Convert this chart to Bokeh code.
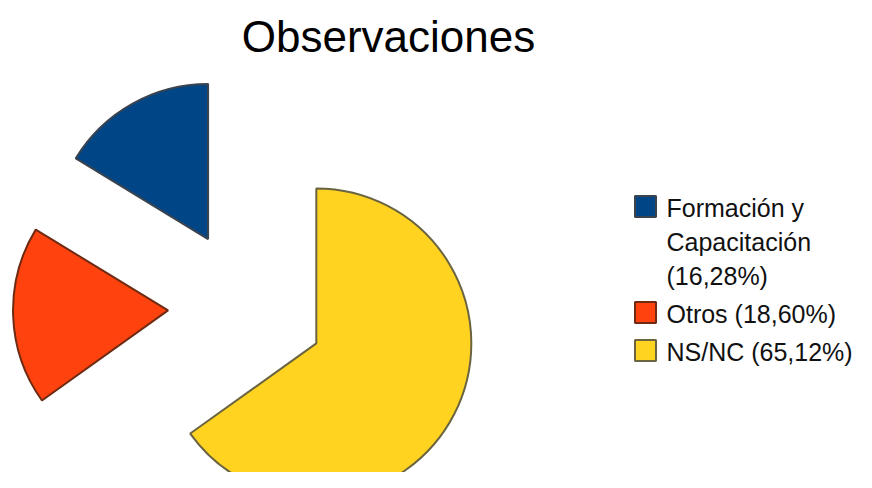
import math
from bokeh.plotting import figure
from bokeh.models import Range1d, ColumnDataSource
from bokeh.core.properties import value
from bokeh.embed import file_html
from bokeh.resources import INLINE

# ---- data ----
categories = ["Formación y Capacitación", "Otros", "NS/NC"]
percentages = [16.28, 18.60, 65.12]
legend_lines = [["Formación y", "Capacitación", "(16,28%)"], ["Otros (18,60%)"], ["NS/NC (65,12%)"]]
fill_colors = ["#004586", "#ff420e", "#ffd320"]
edge_colors = ["#3a4450", "#6e2a12", "#6a6440"]
title_text = "Observaciones"

W, H = 856, 472
p = figure(width=W, height=H, output_backend="svg", toolbar_location=None,
           x_range=Range1d(0, W), y_range=Range1d(0, H), min_border=0)
p.axis.visible = False
p.grid.visible = False
p.outline_line_color = None
p.background_fill_color = "white"
p.border_fill_color = "white"

def sx(x):
    return x

def sy(y):
    return 471 - y

# ---- exploded pie ----
cx, cy = sx(246), sy(306)
radius = 155
explode = 78.5
total = sum(percentages)
starts, ends, xs, ys = [], [], [], []
a = math.pi / 2
for v in percentages:
    span = v / total * 2 * math.pi
    mid = a + span / 2
    starts.append(a)
    ends.append(a + span)
    xs.append(cx + explode * math.cos(mid))
    ys.append(cy + explode * math.sin(mid))
    a += span

src = ColumnDataSource(dict(x=xs, y=ys, start=starts, end=ends, fill=fill_colors,
                            edge=edge_colors, cat=categories))
p.wedge(x="x", y="y", radius=radius, start_angle="start", end_angle="end",
        direction="anticlock", fill_color="fill", line_color="edge", line_width=2, source=src)

# ---- title ----
p.text(x=[sx(388)], y=[sy(35)], text=[title_text], text_align="center",
       text_baseline="middle", text_font=value("Liberation Sans"),
       text_font_size="44px", text_color="#000000")

# ---- legend ----
box_x = sx(645)
text_x = sx(666)
line_step = 34
entry_top = [206, 312, 350]  # centre of first line of each entry (screen y)
bx, by, bf, bl = [], [], [], []
tx, ty, tt = [], [], []
for i, lines in enumerate(legend_lines):
    y0 = entry_top[i]
    bx.append(box_x)
    by.append(sy(y0 - 1))
    bf.append(fill_colors[i])
    bl.append(edge_colors[i])
    for j, ln in enumerate(lines):
        tx.append(text_x)
        ty.append(sy(y0 + j * line_step))
        tt.append(ln)

p.rect(x=bx, y=by, width=21, height=21, fill_color=bf, line_color=bl, line_width=2)
p.text(x=tx, y=ty, text=tt, text_align="left", text_baseline="middle",
       text_font=value("Liberation Sans"), text_font_size="25px", text_color="#111111")

open("out.html", "w").write(file_html(p, INLINE))
